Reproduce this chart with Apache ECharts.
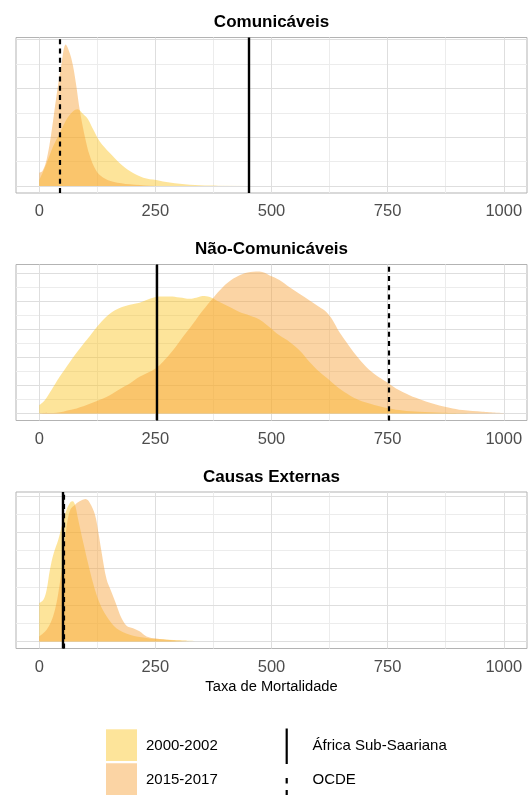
<!DOCTYPE html>
<html>
<head>
<meta charset="utf-8">
<script src="https://cdn.jsdelivr.net/npm/echarts@6/dist/echarts.min.js"></script>
<style>html,body{margin:0;padding:0;background:#fff}#c{width:532px;height:795px}</style>
</head>
<body>
<div id="c"></div>
<script>
// ---------- DATA ----------
const panelTitles = ['Comunicáveis', 'Não-Comunicáveis', 'Causas Externas'];
const seriesNames = ['2000-2002', '2015-2017'];
const refNames = ['África Sub-Saariana', 'OCDE'];
const xTicks = [0, 250, 500, 750, 1000];
const xMinorTicks = [125, 375, 625, 875];
const xAxisTitle = 'Taxa de Mortalidade';

// Comunicáveis
const com2000X = [0, 8, 16, 30, 44, 59, 73, 82, 95, 105, 116, 130, 152, 173, 195, 224, 252, 281, 324, 367, 450];
const com2000Y = [0.0006, 0.00143, 0.00235, 0.00408, 0.00541, 0.00684, 0.00765, 0.00786, 0.00735, 0.00684, 0.00582, 0.00459, 0.00337, 0.00235, 0.00153, 0.00085, 0.00061, 0.00034, 0.00013, 0.00005, 0.00001];
const com2015X = [0, 7, 16, 26, 37, 48, 57, 66, 73, 80, 87, 98, 109, 123, 138, 159, 195, 238, 280];
const com2015Y = [0.00136, 0.00153, 0.00272, 0.00541, 0.00918, 0.01255, 0.01449, 0.01357, 0.01224, 0.0102, 0.00786, 0.0051, 0.00306, 0.00153, 0.00085, 0.00044, 0.00017, 0.00003, 0];

// Não-Comunicáveis
const nco2000X = [0, 12, 26, 44, 66, 87, 109, 130, 152, 173, 195, 216, 238, 259, 281, 302, 324, 338, 352, 367, 388, 410, 431, 453, 474, 496, 517, 539, 560, 582, 603, 625, 646, 668, 689, 711, 732, 754, 782, 818, 868, 926];
const nco2000Y = [0.000148, 0.000237, 0.000415, 0.000653, 0.00092, 0.001157, 0.001383, 0.001602, 0.00178, 0.001881, 0.00194, 0.001976, 0.002047, 0.002088, 0.002088, 0.00207, 0.002047, 0.002065, 0.002095, 0.002077, 0.001988, 0.001899, 0.00181, 0.00175, 0.001679, 0.00154, 0.001394, 0.001276, 0.001127, 0.00092, 0.000742, 0.000593, 0.000445, 0.000326, 0.000237, 0.000178, 0.00013, 0.000089, 0.000053, 0.00003, 0.000012, 0];
const nco2015X = [0, 37, 66, 95, 123, 152, 173, 195, 216, 238, 252, 266, 288, 309, 331, 352, 374, 395, 417, 438, 460, 474, 496, 517, 539, 560, 582, 603, 618, 632, 646, 661, 682, 704, 725, 747, 768, 797, 825, 854, 883, 911, 954, 1001];
const nco2015Y = [0.000005, 0.000012, 0.000059, 0.00013, 0.000219, 0.000326, 0.000433, 0.000534, 0.000653, 0.000742, 0.000813, 0.00092, 0.001127, 0.001365, 0.001602, 0.001839, 0.002059, 0.002255, 0.002403, 0.002492, 0.002528, 0.002533, 0.002465, 0.002385, 0.002255, 0.002136, 0.002017, 0.001899, 0.00181, 0.001661, 0.001454, 0.001276, 0.001038, 0.000831, 0.000682, 0.000564, 0.000445, 0.000326, 0.000237, 0.00016, 0.000101, 0.000059, 0.00003, 0.000005];

// Causas Externas
const ext2000X = [0, 9, 16, 23, 31, 41, 50, 59, 67, 72, 77, 84, 95, 105, 116, 130, 145, 166, 195, 224, 252, 288, 338];
const ext2000Y = [0.00263, 0.00286, 0.00355, 0.00492, 0.00604, 0.00698, 0.0081, 0.00905, 0.00955, 0.00962, 0.00939, 0.00836, 0.00675, 0.00538, 0.004, 0.00263, 0.00172, 0.00091, 0.00046, 0.00027, 0.00016, 0.00009, 0.00002];
const ext2015X = [0, 16, 30, 41, 52, 59, 67, 77, 87, 100, 109, 120, 127, 134, 145, 155, 166, 177, 188, 202, 216, 231, 252, 281, 324];
const ext2015Y = [0.00034, 0.0008, 0.00172, 0.0033, 0.00584, 0.0079, 0.00905, 0.00939, 0.00962, 0.00977, 0.0095, 0.0087, 0.00755, 0.00618, 0.00426, 0.00343, 0.00252, 0.0016, 0.00108, 0.00091, 0.00069, 0.00034, 0.00019, 0.00009, 0.00002];

// Reference lines (África Sub-Saariana solid, OCDE dashed) per panel
const africaRef = [451, 252, 51];
const ocdeRef = [45, 752, 52];
// y gridline step (major) per panel
const yGridStep = [0.005, 0.0005, 0.0025];

// ---------- LAYOUT / STYLE ----------
const FONT = '"Liberation Sans", Arial, sans-serif';
const fills = ['rgba(251,195,31,0.45)', 'rgba(246,159,53,0.45)'];
const panelLayout = [
  { top: 37.5, height: 155.5, titleY: 22.5 },
  { top: 264.5, height: 156, titleY: 249.5 },
  { top: 492, height: 156.5, titleY: 477 }
];
const majorStyle = { color: '#dedede', width: 1, type: 'solid' };
const minorStyle = { color: '#ececec', width: 1, type: 'solid' };

const panels = [
  [[com2000X, com2000Y], [com2015X, com2015Y]],
  [[nco2000X, nco2000Y], [nco2015X, nco2015Y]],
  [[ext2000X, ext2000Y], [ext2015X, ext2015Y]]
];
const zip = (xs, ys) => xs.map((x, i) => [x, ys[i]]);

const grid = [], xAxis = [], yAxis = [], series = [], graphic = [];

panels.forEach((p, i) => {
  const L = panelLayout[i];
  grid.push({
    left: 16, width: 511, top: L.top, height: L.height,
    show: true, borderColor: '#b3b3b3', borderWidth: 1, backgroundColor: 'transparent',
    containLabel: false, outerBoundsMode: 'none'
  });
  xAxis.push({
    type: 'value', gridIndex: i, min: -50, max: 1050,
    axisLine: { show: false }, axisTick: { show: false }, splitLine: { show: false },
    axisLabel: { customValues: xTicks, formatter: v => String(v), color: '#4d4d4d',
      fontSize: 16.5, fontFamily: FONT, margin: 10 }
  });
  const D = Math.max(...p[0][1], ...p[1][1]);
  const ymin = -0.05 * D, ymax = 1.05 * D;
  yAxis.push({ type: 'value', gridIndex: i, min: ymin, max: ymax, show: false, splitLine: { show: false } });

  const step = yGridStep[i];
  const gl = [];
  xMinorTicks.forEach(v => gl.push({ xAxis: v, lineStyle: minorStyle }));
  for (let k = 0; k * step / 2 <= ymax; k++) {
    gl.push({ yAxis: k * step / 2, lineStyle: (k % 2) ? minorStyle : majorStyle });
  }
  xTicks.forEach(v => gl.push({ xAxis: v, lineStyle: majorStyle }));
  series.push({
    type: 'line', xAxisIndex: i, yAxisIndex: i, data: [[0, 0]], symbol: 'none',
    lineStyle: { opacity: 0, width: 0 }, silent: true, z: 1,
    markLine: { silent: true, z: 1, precision: 12, symbol: ['none', 'none'], label: { show: false },
      animation: false, data: gl }
  });

  [0, 1].forEach(j => {
    const s = {
      name: seriesNames[j], type: 'line', xAxisIndex: i, yAxisIndex: i,
      data: zip(p[j][0], p[j][1]), symbol: 'none', showSymbol: false,
      smooth: 0.35, lineStyle: { width: 0, opacity: 0 },
      areaStyle: { color: fills[j], opacity: 1 }, z: 2 + j, silent: true
    };
    if (j === 1) {
      s.markLine = {
        silent: true, precision: 12, symbol: ['none', 'none'], label: { show: false }, animation: false,
        data: [
          { xAxis: africaRef[i], lineStyle: { color: '#000', width: 2.4, type: 'solid' } },
          { xAxis: ocdeRef[i], lineStyle: { color: '#000', width: 2.2, type: [5, 4.3] } }
        ]
      };
    }
    series.push(s);
  });

  graphic.push({
    type: 'text', x: 271.5, y: L.titleY, silent: true,
    style: { text: panelTitles[i], font: 'bold 17px ' + FONT, fill: '#000',
      textAlign: 'center', textVerticalAlign: 'middle', align: 'center', verticalAlign: 'middle' }
  });
});

// axis title
graphic.push({
  type: 'text', x: 271.5, y: 687.3, silent: true,
  style: { text: xAxisTitle, font: '14.7px ' + FONT, fill: '#000',
    textAlign: 'center', textVerticalAlign: 'middle', align: 'center', verticalAlign: 'middle' }
});

// legend (fill keys)
const keyY = [729.3, 763.3];
const keyTextY = [745.8, 780.2];
[0, 1].forEach(j => {
  graphic.push({ type: 'rect', silent: true, shape: { x: 106, y: keyY[j], width: 31, height: j ? 34 : 31.7 },
    style: { fill: fills[j] } });
  graphic.push({ type: 'text', x: 146, y: keyTextY[j], silent: true,
    style: { text: seriesNames[j], font: '15px ' + FONT, fill: '#000',
      textAlign: 'left', textVerticalAlign: 'middle', align: 'left', verticalAlign: 'middle' } });
  graphic.push({ type: 'text', x: 312.5, y: keyTextY[j], silent: true,
    style: { text: refNames[j], font: '15px ' + FONT, fill: '#000',
      textAlign: 'left', textVerticalAlign: 'middle', align: 'left', verticalAlign: 'middle' } });
});
// legend (line keys)
graphic.push({ type: 'line', silent: true, shape: { x1: 286.7, y1: 728.5, x2: 286.7, y2: 764 },
  style: { stroke: '#000', lineWidth: 2.2 } });
graphic.push({ type: 'line', silent: true, shape: { x1: 286.7, y1: 778, x2: 286.7, y2: 783.5 },
  style: { stroke: '#000', lineWidth: 2.2 } });
graphic.push({ type: 'line', silent: true, shape: { x1: 286.7, y1: 790, x2: 286.7, y2: 797 },
  style: { stroke: '#000', lineWidth: 2.2 } });

const chart = echarts.init(document.getElementById('c'), null, { renderer: 'canvas' });
chart.setOption({
  animation: false,
  backgroundColor: '#fff',
  grid, xAxis, yAxis, series, graphic
});
</script>
</body>
</html>
